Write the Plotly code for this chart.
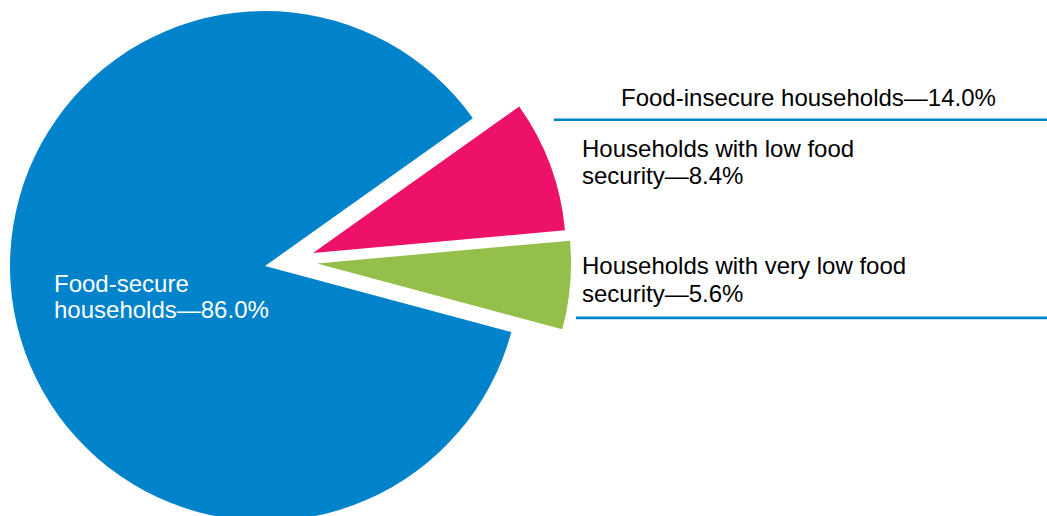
import plotly.graph_objects as go

# ---- data ----
categories = ["Food-secure households",
              "Households with low food security",
              "Households with very low food security"]
values = [86.0, 8.4, 5.6]
label_lines = [["Food-secure", "households—86.0%"],
               ["Households with low food", "security—8.4%"],
               ["Households with very low food", "security—5.6%"]]
group_label = "Food-insecure households—14.0%"

# ---- styles / layout ----
colors = ["#0083CA", "#ED1169", "#95BF4B"]
W, H = 1047, 522
# (center x, center y, radius) in px for each slice (pulled-out slices have own centers)
geo = [(265, 266, 255), (313, 253, 253), (317, 263.5, 254)]
FONT = "Liberation Sans, Arial, Helvetica, sans-serif"
FS = 24

fig = go.Figure()
for i, (cx, cy, r) in enumerate(geo):
    cols = [colors[j] if j == i else "rgba(0,0,0,0)" for j in range(len(values))]
    fig.add_trace(go.Pie(
        labels=categories, values=values, sort=False,
        direction="clockwise", rotation=105,
        marker=dict(colors=cols, line=dict(width=0)),
        textinfo="none", hoverinfo="label+percent",
        showlegend=False,
        domain=dict(x=[(cx - r) / W, (cx + r) / W],
                    y=[1 - (cy + r) / H, 1 - (cy - r) / H]),
    ))

def py(ypx):
    return 1 - ypx / H

ann = []
# (x left px, y middle px, color)
text_pos = [
    (53.5, [283.0, 309.6], "white"),
    (581.5, [149.0, 175.6], "black"),
    (581.5, [265.6, 293.0], "black"),
]
for (x, ys, col), lines in zip(text_pos, label_lines):
    for yy, t in zip(ys, lines):
        ann.append(dict(x=x / W, y=py(yy), xref="paper", yref="paper",
                        text=t, showarrow=False, xanchor="left", yanchor="middle",
                        borderpad=0, borderwidth=0,
                        font=dict(family=FONT, size=FS, color=col)))
ann.append(dict(x=620.5 / W, y=py(97.3), xref="paper", yref="paper",
                text=group_label, showarrow=False, xanchor="left", yanchor="middle",
                borderpad=0, borderwidth=0,
                font=dict(family=FONT, size=FS, color="black")))

shapes = [
    dict(type="line", xref="paper", yref="paper", x0=554 / W, x1=1.0,
         y0=py(119.7), y1=py(119.7), line=dict(color=colors[0], width=2.6)),
    dict(type="line", xref="paper", yref="paper", x0=576 / W, x1=1.0,
         y0=py(317.8), y1=py(317.8), line=dict(color=colors[0], width=2.8)),
]

fig.update_layout(width=W, height=H, margin=dict(l=0, r=0, t=0, b=0),
                  paper_bgcolor="white", plot_bgcolor="white",
                  annotations=ann, shapes=shapes, showlegend=False)

fig.write_html(
    "out.html",
    config={"displayModeBar": False},
    post_script=("document.body.style.margin='0';"
                 "document.body.style.overflow='hidden';"
                 "document.documentElement.style.overflow='hidden';"),
)
